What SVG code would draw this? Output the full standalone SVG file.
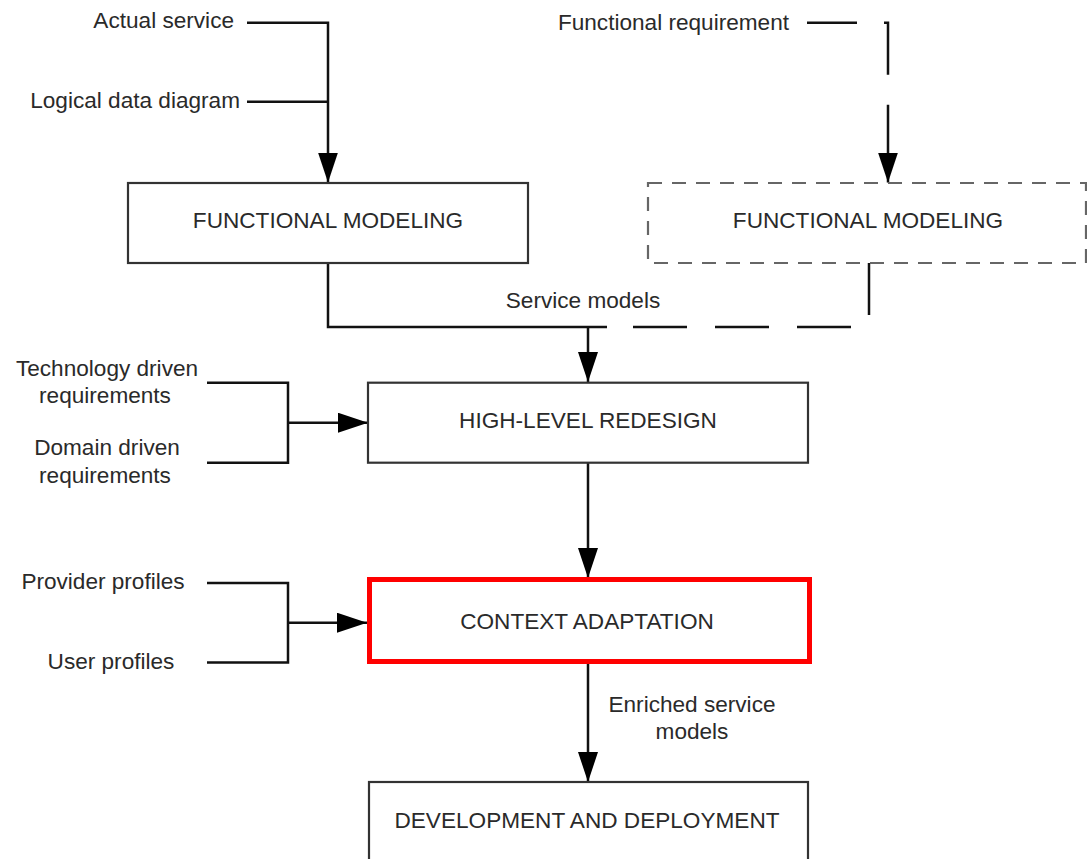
<svg xmlns="http://www.w3.org/2000/svg" width="1087" height="859" viewBox="0 0 1087 859">
<style>
text{font-family:"Liberation Sans",Arial,sans-serif;font-size:22.6px;fill:#2a2a2a}
.box{fill:#fff;stroke:#333;stroke-width:2.2}
.dbox{fill:#fff;stroke:#666;stroke-width:2.2;stroke-dasharray:14 10}
.red{fill:#fff;stroke:#f00;stroke-width:5}
.c{fill:none;stroke:#111;stroke-width:2.5}
.m{text-anchor:middle}
.e{text-anchor:end}
</style>
<defs>
<marker id="ah" markerUnits="userSpaceOnUse" markerWidth="30" markerHeight="20" refX="30" refY="10" orient="auto" viewBox="0 0 30 20">
<path d="M0,0 L30,10 L0,20 z" fill="#000"/>
</marker>
</defs>
<rect width="1087" height="859" fill="#fff"/>
<g id="labels">
<text class="e" x="234" y="28">Actual service</text>
<text class="e" x="240" y="108">Logical data diagram</text>
<text class="e" x="789" y="30">Functional requirement</text>
<text class="m" x="583" y="308">Service models</text>
<text class="m" x="107" y="376">Technology driven</text>
<text class="m" x="105" y="403">requirements</text>
<text class="m" x="107" y="455">Domain driven</text>
<text class="m" x="105" y="483">requirements</text>
<text class="m" x="103" y="589">Provider profiles</text>
<text class="m" x="111" y="669">User profiles</text>
<text class="m" x="692" y="712">Enriched service</text>
<text class="m" x="692" y="739">models</text>
</g>
<g id="connectors">
<path class="c" d="M247 22.7 H328 V182.5" marker-end="url(#ah)"/>
<path class="c" d="M247 101.7 H328"/>
<path class="c" d="M807 22.7 H888 V182.5" stroke-dasharray="50 27 56 30 200" marker-end="url(#ah)"/>
<path class="c" d="M328 263 V327 H607"/>
<path class="c" d="M869 263 V327 H607" stroke-dasharray="52 30 54 28 54 28 54 28"/>
<path class="c" d="M588 327 V382" marker-end="url(#ah)"/>
<path class="c" d="M207 382.7 H288 V462.7 H207"/>
<path class="c" d="M288 422.7 H368" marker-end="url(#ah)"/>
<path class="c" d="M588 462 V578" marker-end="url(#ah)"/>
<path class="c" d="M207 583 H288 V662.5 H207"/>
<path class="c" d="M288 622.7 H367" marker-end="url(#ah)"/>
<path class="c" d="M588 664 V782" marker-end="url(#ah)"/>
</g>
<g id="functional-modeling">
<rect class="box" x="128" y="183" width="400" height="80"/>
<text class="m" x="328" y="228">FUNCTIONAL MODELING</text>
</g>
<g id="functional-modeling-dashed">
<rect class="dbox" x="648" y="183" width="438" height="80"/>
<text class="m" x="868" y="228">FUNCTIONAL MODELING</text>
</g>
<g id="high-level-redesign">
<rect class="box" x="368" y="382.7" width="440" height="80"/>
<text class="m" x="588" y="428">HIGH-LEVEL REDESIGN</text>
</g>
<g id="context-adaptation">
<rect class="red" x="369.5" y="579.5" width="440" height="82"/>
<text class="m" x="587" y="629">CONTEXT ADAPTATION</text>
</g>
<g id="development-deployment">
<rect class="box" x="369" y="782" width="439" height="90"/>
<text class="m" x="587" y="828">DEVELOPMENT AND DEPLOYMENT</text>
</g>
</svg>
